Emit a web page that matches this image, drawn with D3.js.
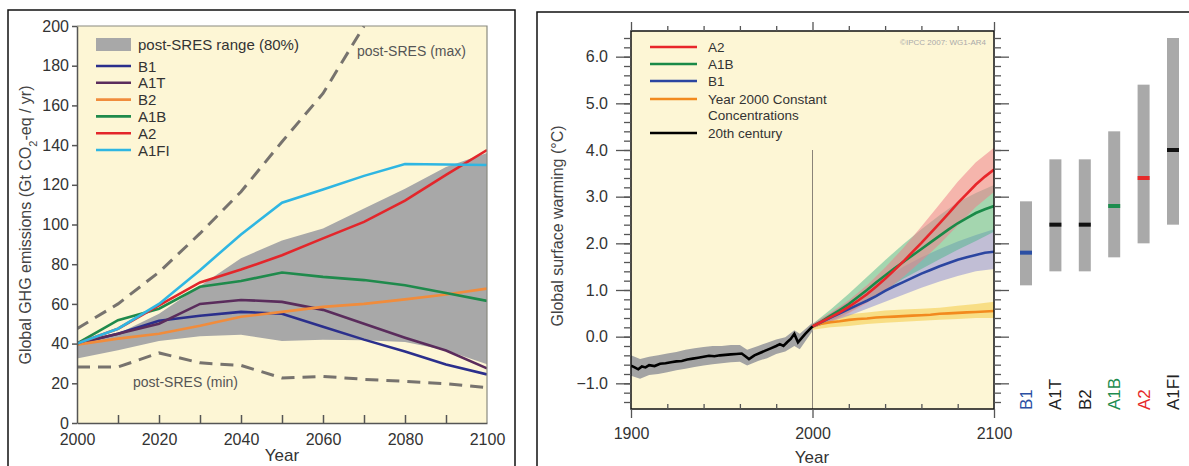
<!DOCTYPE html>
<html>
<head>
<meta charset="utf-8">
<script src="https://cdn.jsdelivr.net/npm/d3@7"></script>
<style>
  body { margin: 0; background: #fff; }
  svg { display: block; font-family: "Liberation Sans", Arial, Helvetica, sans-serif; }
  .axis path, .axis line { stroke: #555; }
  .axis text { fill: #333; font-size: 16px; }
</style>
</head>
<body>
<script>
// ---------- left panel: emissions ----------
const emisYears = [2000, 2010, 2020, 2030, 2040, 2050, 2060, 2070, 2080, 2090, 2100];
const emisTicks = [0, 20, 40, 60, 80, 100, 120, 140, 160, 180, 200];
const yearTicks = [2000, 2020, 2040, 2060, 2080, 2100];
const yearMinor = [2010, 2020, 2030, 2040, 2050, 2060, 2070, 2080, 2090];

const rangeHi = [39.5, 45, 55, 69, 83, 92, 98, 108, 118, 129, 136];
const rangeLo = [32.5, 36.6, 41.3, 43.7, 44.5, 41.3, 42, 41.7, 40.8, 36.6, 29.6];
const maxYears = [2000, 2010, 2020, 2030, 2040, 2050, 2060, 2070];
const sresMax = [47.5, 60, 76, 95.5, 116.5, 141.7, 166, 200];
const sresMin = [28.2, 28.2, 35.3, 30.3, 29, 22.7, 23.5, 22, 21, 19.8, 17.8];

const emisNames = ["B1", "A1T", "B2", "A1B", "A2", "A1FI"];
const emisColors = ["#2b2f8c", "#5a2c5c", "#f08c3c", "#1f8a4c", "#e3262b", "#2fb6e2"];
const emisB1   = [40, 45, 51.5, 54, 56, 55, 48.5, 42, 36, 29.5, 24.5];
const emisA1T  = [40, 45, 50, 60, 62, 61, 57, 50, 43, 36.5, 27.5];
const emisB2   = [39.5, 42.5, 45, 49, 53.5, 56, 58.5, 60, 62.3, 64.7, 67.7];
const emisA1B  = [40, 51.8, 57.6, 68.6, 71.5, 75.8, 73.6, 72, 69.4, 65.5, 61.5];
const emisA2   = [40, 47.5, 59.3, 70.8, 77.3, 84.5, 93, 101.3, 112, 125, 137.5];
const emisA1FI = [40, 47.5, 60, 77, 95, 111, 117.6, 124.5, 130.5, 130.2, 130];
const emisSeries = [emisB1, emisA1T, emisB2, emisA1B, emisA2, emisA1FI];

// ---------- right panel: warming ----------
const c20Years = [1900, 1902, 1904, 1906, 1908, 1910, 1913, 1916, 1919, 1922, 1925, 1928, 1931, 1934, 1937,
  1940, 1943, 1946, 1949, 1952, 1955, 1958, 1961, 1963, 1965, 1968, 1971, 1974, 1977, 1980,
  1982, 1984, 1986, 1988, 1990, 1992, 1994, 1996, 1998, 2000];
const c20 = [-0.62, -0.66, -0.70, -0.64, -0.66, -0.61, -0.63, -0.58, -0.57, -0.55, -0.53, -0.52, -0.49, -0.47, -0.45,
  -0.43, -0.41, -0.42, -0.40, -0.39, -0.38, -0.37, -0.36, -0.42, -0.48, -0.40, -0.35, -0.30, -0.25, -0.20,
  -0.16, -0.20, -0.12, -0.05, 0.06, -0.12, -0.03, 0.06, 0.14, 0.22];
const c20BandYears = [1900, 1905, 1910, 1915, 1920, 1925, 1930, 1935, 1940, 1945, 1950, 1955, 1960, 1964, 1970,
  1975, 1980, 1985, 1990, 1993, 2000];
const c20Lo = [-0.84, -0.90, -0.82, -0.80, -0.76, -0.72, -0.69, -0.65, -0.62, -0.59, -0.57, -0.55, -0.54, -0.62, -0.52,
  -0.46, -0.37, -0.32, -0.20, -0.27, 0.12];
const c20Hi = [-0.40, -0.48, -0.43, -0.40, -0.36, -0.33, -0.28, -0.25, -0.22, -0.20, -0.20, -0.18, -0.18, -0.28, -0.20,
  -0.13, -0.06, -0.01, 0.14, 0.06, 0.30];

const futYears = [2000, 2005, 2010, 2015, 2020, 2025, 2030, 2035, 2040, 2045, 2050,
  2055, 2060, 2065, 2070, 2075, 2080, 2085, 2090, 2095, 2100];
const futA2    = [0.22, 0.32, 0.42, 0.52, 0.64, 0.77, 0.91, 1.07, 1.24, 1.42, 1.61, 1.81, 2.01, 2.22, 2.43, 2.64, 2.86, 3.06, 3.26, 3.43, 3.58];
const futA1B   = [0.22, 0.33, 0.45, 0.57, 0.70, 0.85, 1.00, 1.16, 1.31, 1.46, 1.60, 1.74, 1.88, 2.02, 2.16, 2.30, 2.43, 2.54, 2.65, 2.73, 2.80];
const futB1    = [0.22, 0.31, 0.41, 0.50, 0.59, 0.68, 0.77, 0.87, 0.98, 1.08, 1.17, 1.26, 1.35, 1.43, 1.51, 1.58, 1.65, 1.70, 1.75, 1.80, 1.82];
const futConst = [0.22, 0.28, 0.31, 0.33, 0.36, 0.38, 0.39, 0.41, 0.42, 0.43, 0.44, 0.45, 0.46, 0.47, 0.49, 0.50, 0.51, 0.52, 0.53, 0.54, 0.55];

const bandYears = [2000, 2010, 2020, 2030, 2040, 2050, 2060, 2070, 2080, 2090, 2100];
const a2Lo  = [0.18, 0.32, 0.50, 0.72, 0.98, 1.28, 1.62, 1.98, 2.38, 2.78, 3.10];
const a2Hi  = [0.27, 0.52, 0.78, 1.10, 1.48, 1.90, 2.36, 2.84, 3.32, 3.74, 4.05];
const a1bLo = [0.18, 0.34, 0.52, 0.76, 1.00, 1.24, 1.45, 1.66, 1.86, 2.05, 2.25];
const a1bHi = [0.27, 0.58, 0.92, 1.28, 1.64, 1.98, 2.30, 2.60, 2.88, 3.08, 3.25];
const b1Lo  = [0.18, 0.32, 0.45, 0.60, 0.75, 0.90, 1.05, 1.18, 1.30, 1.40, 1.45];
const b1Hi  = [0.27, 0.50, 0.75, 1.00, 1.25, 1.50, 1.70, 1.88, 2.04, 2.18, 2.30];
const conLo = [0.15, 0.20, 0.23, 0.27, 0.30, 0.32, 0.34, 0.36, 0.38, 0.40, 0.40];
const conHi = [0.27, 0.42, 0.48, 0.52, 0.56, 0.58, 0.60, 0.62, 0.66, 0.70, 0.75];

const warmTicks = [-1, 0, 1, 2, 3, 4, 5, 6];
const centuryTicks = [1900, 2000, 2100];
const scenNames = ["B1", "A1T", "B2", "A1B", "A2", "A1FI"];
const scenBest = [1.8, 2.4, 2.4, 2.8, 3.4, 4.0];
const scenLow  = [1.1, 1.4, 1.4, 1.7, 2.0, 2.4];
const scenHigh = [2.9, 3.8, 3.8, 4.4, 5.4, 6.4];
const scenColors = ["#2b4fa3", "#111", "#111", "#1d8c4e", "#e62a2a", "#111"];

const cream = "#fdf6d5";

const svg = d3.select("body").append("svg")
  .attr("width", 1189)
  .attr("height", 466);

// panel frames
svg.append("path").attr("d", "M8,466V10H515V466").attr("fill", "none").attr("stroke", "#111").attr("stroke-width", 1.5);
svg.append("path").attr("d", "M537,466V12H1189").attr("fill", "none").attr("stroke", "#111").attr("stroke-width", 1.5);

// ================= left =================
const x1 = d3.scaleLinear().domain([2000, 2100]).range([77, 487]);
const y1 = d3.scaleLinear().domain([0, 200]).range([423, 26]);

svg.append("rect").attr("x", 77).attr("y", 26).attr("width", 410).attr("height", 397).attr("fill", cream);
svg.append("clipPath").attr("id", "clipL").append("rect")
  .attr("x", 77).attr("y", 26).attr("width", 410).attr("height", 397);

const gL = svg.append("g").attr("clip-path", "url(#clipL)");

gL.append("path")
  .datum(emisYears.map((yr, i) => [yr, rangeLo[i], rangeHi[i]]))
  .attr("fill", "#a8a8a8")
  .attr("d", d3.area().x(d => x1(d[0])).y0(d => y1(d[1])).y1(d => y1(d[2])));

const dash = d3.line().x(d => x1(d[0])).y(d => y1(d[1]));
gL.append("path").datum(maxYears.map((yr, i) => [yr, sresMax[i]]))
  .attr("d", dash).attr("fill", "none").attr("stroke", "#77736e").attr("stroke-width", 3).attr("stroke-dasharray", "13,8");
gL.append("path").datum(emisYears.map((yr, i) => [yr, sresMin[i]]))
  .attr("d", dash).attr("fill", "none").attr("stroke", "#77736e").attr("stroke-width", 3).attr("stroke-dasharray", "13,8");

emisSeries.forEach((s, k) => {
  gL.append("path").datum(emisYears.map((yr, i) => [yr, s[i]]))
    .attr("d", d3.line().x(d => x1(d[0])).y(d => y1(d[1])))
    .attr("fill", "none").attr("stroke", emisColors[k]).attr("stroke-width", 2.6);
});

// border lines top/right
svg.append("path").attr("d", "M77,26H487V423").attr("fill", "none").attr("stroke", "#8a8a80").attr("stroke-width", 1.2);

svg.append("g").attr("class", "axis")
  .attr("transform", "translate(77,0)")
  .call(d3.axisLeft(y1).tickValues(emisTicks).tickSize(5).tickPadding(3).tickSizeOuter(0))
  .call(g => g.selectAll("line, path").attr("stroke-width", 1.5));

svg.append("g").attr("class", "axis")
  .attr("transform", "translate(0,423)")
  .call(d3.axisBottom(x1).tickValues(yearMinor).tickSize(-8).tickFormat("").tickSizeOuter(0))
  .call(g => g.selectAll("line, path").attr("stroke-width", 1.5));
svg.append("g").attr("class", "axis")
  .attr("transform", "translate(0,423)")
  .call(d3.axisBottom(x1).tickValues(yearTicks).tickSize(0).tickPadding(11).tickFormat(d3.format("d")))
  .call(g => g.select(".domain").remove());

svg.append("text").attr("x", 282).attr("y", 461).attr("text-anchor", "middle")
  .attr("font-size", 17).attr("fill", "#333").text("Year");

const yl = svg.append("text").attr("transform", "translate(31,225) rotate(-90)")
  .attr("text-anchor", "middle").attr("font-size", 16).attr("fill", "#444");
yl.append("tspan").text("Global GHG emissions (Gt CO");
yl.append("tspan").attr("baseline-shift", "sub").attr("font-size", 11).text("2");
yl.append("tspan").text("-eq / yr)");

// left legend
const legL = svg.append("g");
legL.append("rect").attr("x", 96).attr("y", 38).attr("width", 35).attr("height", 13).attr("fill", "#a8a8a8");
legL.append("text").attr("x", 138).attr("y", 50).attr("font-size", 15).attr("fill", "#333").text("post-SRES range (80%)");
emisNames.forEach((n, i) => {
  const yy = 66 + i * 16.8;
  legL.append("line").attr("x1", 96).attr("x2", 131).attr("y1", yy).attr("y2", yy)
    .attr("stroke", emisColors[i]).attr("stroke-width", 2.6);
  legL.append("text").attr("x", 138).attr("y", yy + 5.5).attr("font-size", 15).attr("fill", "#333").text(n);
});
svg.append("text").attr("x", 357).attr("y", 56).attr("font-size", 14).attr("fill", "#555").text("post-SRES (max)");
svg.append("text").attr("x", 133).attr("y", 387).attr("font-size", 14).attr("fill", "#555").text("post-SRES (min)");

// ================= right =================
const x2 = d3.scaleLinear().domain([1900, 2100]).range([631, 994]);
const y2 = d3.scaleLinear().domain([-1.55, 6.55]).range([409, 31]);

svg.append("rect").attr("x", 631).attr("y", 31).attr("width", 363).attr("height", 378).attr("fill", cream);
svg.append("clipPath").attr("id", "clipR").append("rect")
  .attr("x", 631).attr("y", 31).attr("width", 363).attr("height", 378);
const gR = svg.append("g").attr("clip-path", "url(#clipR)");

// 2000 marker line
gR.append("line").attr("x1", x2(2000)).attr("x2", x2(2000)).attr("y1", y2(4)).attr("y2", y2(-1.55))
  .attr("stroke", "#8a8378").attr("stroke-width", 1);

const band = (yrs, lo, hi) => yrs.map((yr, i) => [yr, lo[i], hi[i]]);
const areaR = d3.area().x(d => x2(d[0])).y0(d => y2(d[1])).y1(d => y2(d[2]));
const lineR = d3.line().x(d => x2(d[0])).y(d => y2(d[1]));

gR.append("path").datum(band(c20BandYears, c20Lo, c20Hi)).attr("d", areaR).attr("fill", "#a3a3a3");
gR.append("path").datum(band(bandYears, conLo, conHi)).attr("d", areaR).attr("fill", "#f5d66a").attr("opacity", 0.75);
gR.append("path").datum(band(bandYears, b1Lo, b1Hi)).attr("d", areaR).attr("fill", "#8f8fd6").attr("opacity", 0.55);
gR.append("path").datum(band(bandYears, a1bLo, a1bHi)).attr("d", areaR).attr("fill", "#4cb68a").attr("opacity", 0.5);
gR.append("path").datum(band(bandYears, a2Lo, a2Hi)).attr("d", areaR).attr("fill", "#ee7f8a").attr("opacity", 0.55);

const futLines = [[futConst, "#f28a1e"], [futB1, "#2b45a0"], [futA1B, "#1a8a48"], [futA2, "#e8262a"]];
futLines.forEach(([s, c]) => {
  gR.append("path").datum(futYears.map((yr, i) => [yr, s[i]])).attr("d", lineR)
    .attr("fill", "none").attr("stroke", c).attr("stroke-width", 2.6);
});
gR.append("path").datum(c20Years.map((yr, i) => [yr, c20[i]])).attr("d", lineR)
  .attr("fill", "none").attr("stroke", "#000").attr("stroke-width", 2.6);

svg.append("rect").attr("x", 631).attr("y", 31).attr("width", 363).attr("height", 378)
  .attr("fill", "none").attr("stroke", "#111").attr("stroke-width", 1.5);

const minorWarm = d3.range(-7, 33).map(i => i * 0.2);
const axR = (gen, tr) => svg.append("g").attr("class", "axis").attr("transform", tr).call(gen)
  .call(g => g.select(".domain").remove())
  .call(g => g.selectAll("line").attr("stroke", "#333").attr("stroke-width", 1.3));

axR(d3.axisLeft(y2).tickValues(minorWarm).tickSize(7).tickFormat(""), "translate(631,0)");
axR(d3.axisLeft(y2).tickValues(warmTicks).tickSize(15).tickPadding(8).tickFormat(d => d < 0 ? "\u2212" + d3.format(".1f")(-d) : d3.format(".1f")(d)), "translate(631,0)");
axR(d3.axisRight(y2).tickValues(minorWarm).tickSize(7).tickFormat(""), "translate(994,0)");
axR(d3.axisRight(y2).tickValues(warmTicks).tickSize(15).tickFormat(""), "translate(994,0)");

const x20 = d3.range(1920, 2100, 20).filter(d => d !== 2000);
axR(d3.axisTop(x2).tickValues(x20).tickSize(5).tickFormat(""), "translate(0,31)");
axR(d3.axisTop(x2).tickValues(centuryTicks).tickSize(9).tickFormat(""), "translate(0,31)");
axR(d3.axisBottom(x2).tickValues(x20).tickSize(-5).tickFormat(""), "translate(0,409)");
axR(d3.axisBottom(x2).tickValues(centuryTicks).tickSize(9).tickPadding(10).tickFormat(d3.format("d")), "translate(0,409)");

svg.append("text").attr("x", 812).attr("y", 463).attr("text-anchor", "middle")
  .attr("font-size", 17).attr("fill", "#333").text("Year");
svg.append("text").attr("transform", "translate(563,226) rotate(-90)")
  .attr("text-anchor", "middle").attr("font-size", 16).attr("fill", "#444").text("Global surface warming (\u00B0C)");
svg.append("text").attr("x", 986).attr("y", 45).attr("text-anchor", "end")
  .attr("font-size", 8).attr("fill", "#aaa").text("\u00A9IPCC  2007: WG1-AR4");

// right legend
const legR = [["A2", "#e8262a"], ["A1B", "#1a8a48"], ["B1", "#2b45a0"], ["Year 2000 Constant", "#f28a1e"], ["20th century", "#000"]];
const legRY = [47, 64, 81, 99, 133];
legR.forEach(([n, c], i) => {
  svg.append("line").attr("x1", 650).attr("x2", 697).attr("y1", legRY[i]).attr("y2", legRY[i])
    .attr("stroke", c).attr("stroke-width", 2.6);
  svg.append("text").attr("x", 708).attr("y", legRY[i] + 5).attr("font-size", 13.5).attr("fill", "#333").text(n);
});
svg.append("text").attr("x", 708).attr("y", 120).attr("font-size", 13.5).attr("fill", "#333").text("Concentrations");

// likely-range bars
const xb = d3.scalePoint().domain(scenNames).range([1026, 1173]);
scenNames.forEach((n, i) => {
  svg.append("rect").attr("x", xb(n) - 6).attr("width", 12)
    .attr("y", y2(scenHigh[i])).attr("height", y2(scenLow[i]) - y2(scenHigh[i])).attr("fill", "#a9a9a9");
  svg.append("rect").attr("x", xb(n) - 6).attr("width", 12)
    .attr("y", y2(scenBest[i]) - 2).attr("height", 4).attr("fill", scenColors[i]);
  svg.append("text").attr("transform", `translate(${xb(n) + 6},410) rotate(-90)`)
    .attr("font-size", 17).attr("fill", scenColors[i] === "#111" ? "#222" : scenColors[i]).text(n);
});
</script>
</body>
</html>
